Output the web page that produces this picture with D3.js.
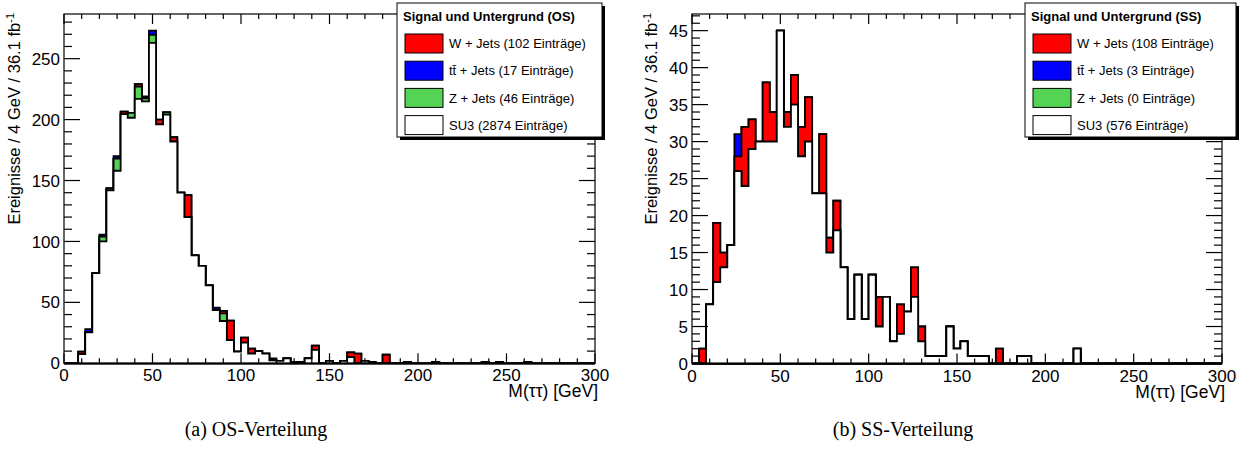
<!DOCTYPE html>
<html><head><meta charset="utf-8">
<script src="https://cdn.jsdelivr.net/npm/d3@7"></script>
<style>body{margin:0;background:#fff;} svg{display:block;}</style>
</head><body>
<svg id="c" width="1250" height="461"></svg>
<script>
// ---- data (75 bins of 4 GeV from 0 to 300) ----
const binLow = d3.range(75).map(i => i * 4);
const xTickValues = [0, 50, 100, 150, 200, 250, 300];
const xTickLabels = ["0", "50", "100", "150", "200", "250", "300"];
const osYTickValues = [0, 50, 100, 150, 200, 250];
const osYTickLabels = ["0", "50", "100", "150", "200", "250"];
const ssYTickValues = [0, 5, 10, 15, 20, 25, 30, 35, 40, 45];
const ssYTickLabels = ["0", "5", "10", "15", "20", "25", "30", "35", "40", "45"];

const osSU3 = [0,0,7.5,25.5,74,100,142,158,204.5,201.5,
  217,215,263,196,204,182,140,120,88.5,80,
  64,43.7,34.7,19,9.5,17,8,10,8,2.5,
  2,4,1,1,4,11,0,2,0,2,
  5,0,2,1,0,0,0,0,1,0,
  0,0,1,0,0,0,0,0,0,1,
  0,1,0,0,0,1,0,0,0,0,
  0,0,0,0,0];
const osZ = [0,0,0,0,0,4,1.5,10,0,4,
  10,2.5,6.5,0,2,0,0,0,0,0,
  0,0,6.3,0,0,0,0,0,0,0,
  0,0,0,0,0,0,0,0,0,0,
  0,0,0,0,0,0,0,0,0,0,
  0,0,0,0,0,0,0,0,0,0,
  0,0,0,0,0,0,0,0,0,0,
  0,0,0,0,0];
const osW = [0,0,2,0,0,0,0,0,2,0,
  2,0,0,4,0,3.5,0,18,0,0,
  0,0,2,16,0,4,4,0,0,0,
  0,0,0,0,0,3.5,0,0,0,0,
  4,8,0,0,0,7,0,0,0,0,
  0,0,0,0,0,0,0,0,0,0,
  0,0,0,0,0,0,0,0,0,0,
  0,0,0,0,0];
const osTT = [0,0,0,2.5,0,1.5,0,2,0,0,
  0,1.5,3.5,0,0,0,0,0,0,0,
  0,2,0,0,0,0,0,0,0,1.5,
  0,0,0,0,0,0,0,0,0,0,
  0,0,0,0,0,0,0,0,0,0,
  0,0,0,0,0,0,0,0,0,0,
  0,0,0,0,0,0,0,0,0,0,
  0,0,0,0,0];

const ssSU3 = [0,0,8,11,13,16,26,24,29,30,
  30,30,45,32,35,28,30,23,23,15,
  18,13,6,12,6,12,5,9,3,4,
  7,9,3,1,1,1,5,2,3,1,
  1,1,0,0,0,0,1,1,0,0,
  0,0,0,0,2,0,0,0,0,0,
  0,0,0,0,0,0,0,0,0,0,
  0,0,0,0,0];
const ssZ = new Array(75).fill(0);
const ssW = [0,2,0,8,2,0,2,8,4,0,
  8,4,0,2,4,4,6,0,8,2,
  4,0,0,0,0,0,4,0,0,4,
  0,4,2,0,0,0,0,0,0,0,
  0,0,0,2,0,0,0,0,0,0,
  0,0,0,0,0,0,0,0,0,0,
  0,0,0,0,0,0,0,0,0,0,
  0,0,0,0,0];
const ssTT = [0,0,0,0,0,0,3,0,0,0,
  0,0,0,0,0,0,0,0,0,0,
  0,0,0,0,0,0,0,0,0,0,
  0,0,0,0,0,0,0,0,0,0,
  0,0,0,0,0,0,0,0,0,0,
  0,0,0,0,0,0,0,0,0,0,
  0,0,0,0,0,0,0,0,0,0,
  0,0,0,0,0];

const colW = "#ff0000", colTT = "#0000ff", colZ = "#55d355", colSU3 = "#ffffff";
const osLegend = ["W + Jets (102 Einträge)", "tt̄ + Jets (17 Einträge)", "Z + Jets (46 Einträge)", "SU3 (2874 Einträge)"];
const ssLegend = ["W + Jets (108 Einträge)", "tt̄ + Jets (3 Einträge)", "Z + Jets (0 Einträge)", "SU3 (576 Einträge)"];

const svg = d3.select("#c");
svg.append("rect").attr("width", 1250).attr("height", 461).attr("fill", "#fff");
const SANS = "'Liberation Sans', Arial, Helvetica, sans-serif";

function drawPanel(p) {
  const g = svg.append("g");
  const x = d3.scaleLinear().domain([0, 300]).range([p.x0, p.x1]);
  const y = d3.scaleLinear().domain([0, p.yMax]).range([p.yBot, p.yTop]);

  const c1 = p.su3.slice();
  const c2 = c1.map((v, i) => v + p.z[i]);
  const c3 = c2.map((v, i) => v + p.w[i]);
  const c4 = c3.map((v, i) => v + p.tt[i]);
  const line = d3.line().x(d => x(d[0])).y(d => y(d[1]));
  function pts(vals) {
    const a = [[0, 0]];
    vals.forEach((v, i) => { a.push([binLow[i], v]); a.push([binLow[i] + 4, v]); });
    a.push([300, 0]);
    return a;
  }
  [[c4, colTT], [c3, colW], [c2, colZ], [c1, colSU3]].forEach(([vals, col]) => {
    g.append("path").attr("d", line(pts(vals)) + "Z")
      .attr("fill", col).attr("stroke", "#000").attr("stroke-width", 1.8)
      .attr("stroke-linejoin", "miter");
  });

  // frame
  g.append("rect").attr("x", p.x0).attr("y", p.yTop).attr("width", p.x1 - p.x0).attr("height", p.yBot - p.yTop)
    .attr("fill", "none").attr("stroke", "#000").attr("stroke-width", 1.2);

  // x ticks (bottom and top)
  const xMinor = d3.range(0, 301, 10);
  xMinor.forEach(v => {
    const major = v % 50 === 0;
    const L = major ? 10 : 5;
    g.append("line").attr("x1", x(v)).attr("x2", x(v)).attr("y1", p.yBot).attr("y2", p.yBot - L).attr("stroke", "#000").attr("stroke-width", 1.2);
    g.append("line").attr("x1", x(v)).attr("x2", x(v)).attr("y1", p.yTop).attr("y2", p.yTop + L).attr("stroke", "#000").attr("stroke-width", 1.2);
  });
  xTickValues.forEach((v, i) => {
    g.append("text").attr("x", x(v)).attr("y", p.yBot + 18).attr("text-anchor", "middle")
      .attr("font-family", SANS).attr("font-size", 17).text(xTickLabels[i]);
  });
  // y ticks
  const yMinor = d3.range(0, p.yMax, p.yMinorStep);
  yMinor.forEach(v => {
    const major = Math.abs(v / p.yMajorStep - Math.round(v / p.yMajorStep)) < 1e-6;
    const L = major ? 16 : 8;
    g.append("line").attr("x1", p.x0).attr("x2", p.x0 + L).attr("y1", y(v)).attr("y2", y(v)).attr("stroke", "#000").attr("stroke-width", 1.2);
    g.append("line").attr("x1", p.x1).attr("x2", p.x1 - L).attr("y1", y(v)).attr("y2", y(v)).attr("stroke", "#000").attr("stroke-width", 1.2);
  });
  p.yTicks.forEach((v, i) => {
    g.append("text").attr("x", p.x0 - 4).attr("y", y(v)).attr("dy", "0.36em").attr("text-anchor", "end")
      .attr("font-family", SANS).attr("font-size", 17).text(p.yLabels[i]);
  });

  // axis titles
  g.append("text").attr("x", p.x1 + 3).attr("y", p.yBot + 34).attr("text-anchor", "end")
    .attr("font-family", SANS).attr("font-size", 17.5).text("M(ττ) [GeV]");
  const yt = g.append("text").attr("transform", `translate(${p.yTitleX},${p.yTop - 1}) rotate(-90)`)
    .attr("text-anchor", "end").attr("font-family", SANS).attr("font-size", 16.5);
  yt.append("tspan").text("Ereignisse / 4 GeV / 36.1 fb");
  yt.append("tspan").attr("dy", -6).attr("font-size", 11).text("-1");

  // legend
  const L = p.legend;
  g.append("rect").attr("x", L.x + 3).attr("y", L.y + 3).attr("width", L.w).attr("height", L.h).attr("fill", "#000");
  g.append("rect").attr("x", L.x).attr("y", L.y).attr("width", L.w).attr("height", L.h).attr("fill", "#fff").attr("stroke", "#000").attr("stroke-width", 1);
  g.append("text").attr("x", L.x + 6).attr("y", L.y + 18).attr("font-family", SANS).attr("font-size", 13)
    .attr("font-weight", "bold").text(p.title);
  const cols = [colW, colTT, colZ, colSU3];
  p.legendTexts.forEach((t, i) => {
    const cy = L.y + 40.5 + i * 27.2;
    g.append("rect").attr("x", L.x + 8).attr("y", cy - 9.5).attr("width", 38).attr("height", 19)
      .attr("fill", cols[i]).attr("stroke", "#000").attr("stroke-width", 1);
    g.append("text").attr("x", L.x + 52).attr("y", cy + 4.6).attr("font-family", SANS).attr("font-size", 13).text(t);
  });

  // caption
  svg.append("text").attr("x", p.capX).attr("y", 436).attr("text-anchor", "middle")
    .attr("font-family", "'Liberation Serif', 'Times New Roman', serif").attr("font-size", 20).text(p.caption);
}

drawPanel({x0: 64, x1: 595, yTop: 14, yBot: 363.3, yMax: 286.65, yMajorStep: 50, yMinorStep: 10,
  yTicks: osYTickValues, yLabels: osYTickLabels, yTitleX: 20,
  su3: osSU3, z: osZ, w: osW, tt: osTT,
  legend: {x: 397, y: 3, w: 205, h: 134}, title: "Signal und Untergrund (OS)", legendTexts: osLegend,
  caption: "(a) OS-Verteilung", capX: 256});
drawPanel({x0: 692, x1: 1222, yTop: 14, yBot: 363.5, yMax: 47.25, yMajorStep: 5, yMinorStep: 1,
  yTicks: ssYTickValues, yLabels: ssYTickLabels, yTitleX: 657,
  su3: ssSU3, z: ssZ, w: ssW, tt: ssTT,
  legend: {x: 1025, y: 3, w: 211, h: 134}, title: "Signal und Untergrund (SS)", legendTexts: ssLegend,
  caption: "(b) SS-Verteilung", capX: 903});
</script>
</body></html>
